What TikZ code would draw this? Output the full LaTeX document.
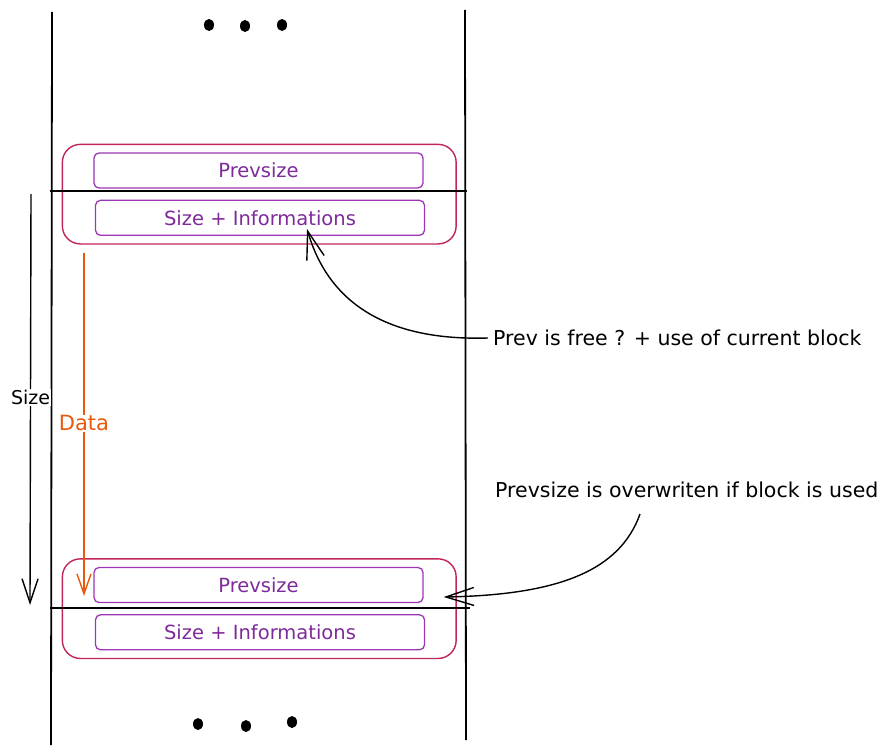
\documentclass[tikz,border=0pt]{standalone}
\usepackage{fontspec}
\setmainfont{DejaVu Sans}
\usetikzlibrary{
    arrows.meta,
    backgrounds,
    positioning,
    fit
}
\definecolor{chunkred}{HTML}{C2255C}
\definecolor{fieldviolet}{HTML}{9C36B5}
\definecolor{fieldtext}{HTML}{7E2A9A}
\definecolor{dataorange}{HTML}{E8590C}
\tikzstyle{field} = [draw=fieldviolet, rounded corners=5pt, minimum width=329pt, minimum height=35pt, text=fieldtext, font=\fontsize{19.5}{23}\selectfont, line width=1.3pt]
\tikzstyle{chunk} = [draw=chunkred, rounded corners=18pt, inner xsep=31pt, inner ysep=8pt, line width=1.4pt]
\tikzstyle{wall} = [line width=1.8pt]
\tikzstyle{note} = [anchor=west, inner sep=0pt, font=\fontsize{20.5}{24}\selectfont]
\tikzstyle{pointer} = [-{Straight Barb[length=28pt, width=18pt]}, line width=1.4pt]
\tikzstyle{axislabel} = [fill=white, inner sep=1pt, font=\fontsize{19}{22}\selectfont]

\begin{document}
\begin{tikzpicture}[x=1pt, y=-1pt]
    \tikzstyle{field} = [draw=fieldviolet, rounded corners=5pt, minimum width=329pt, minimum height=35pt, text=fieldtext, font=\fontsize{19.5}{23}\selectfont, line width=1.3pt]
    \tikzstyle{chunk} = [draw=chunkred, rounded corners=18pt, inner xsep=31pt, inner ysep=8pt, line width=1.4pt]

    \useasboundingbox (0,0) rectangle (894,754);

    % memory walls
    \draw[wall] (52,12) -- (51,745);
    \draw[wall] (465,10) -- (466,740);

    \node[field] (prev1) at (258.5,170.5) {Prevsize};
    \node[field] (info1) [below=11pt of prev1, xshift=1.5pt] {Size + Informations};
    \draw[line width=1.5pt] (50,191) -- (467,191);

    \node[field] (prev2) at (258.5,585) {Prevsize};
    \node[field] (info2) [below=11pt of prev2, xshift=1.5pt] {Size + Informations};
    \draw[line width=1.5pt] (50,608) -- (470,608);

    \foreach \x / \y in {209/25, 245/26, 282/25, 198/724, 246/726, 292/722}{
    \fill (\x,\y) circle [x radius=5pt, y radius=6pt];
    }

    \coordinate (sizetop) at (31,194);
    \coordinate (sizebot) at (30,605);
    \draw[-{Straight Barb[length=24pt, width=16pt]}, line width=1.4pt] (sizetop) -- node[axislabel, pos=0.495] {Size} (sizebot);

    \coordinate (datatop) at (84,253);
    \coordinate (databot) at (84,596);
    \draw[dataorange, -{Straight Barb[length=20pt, width=14pt]}, line width=1.4pt] (datatop) -- node[axislabel, text=dataorange, pos=0.497, font=\fontsize{21}{24}\selectfont] {Data} (databot);

    \node[note] (note1) at (493,338) {Prev is free ? + use of current block};
    \draw[pointer] ([xshift=-5pt]note1.west) .. controls (420,340) and (335,325) .. ([xshift=47pt, yshift=7pt]info1.south);

    \node[note] (note2) at (495,490) {Prevsize is overwriten if block is used};
    \coordinate (note2tail) at (640,514);
    \draw[pointer] (note2tail) .. controls (620,570) and (560,595) .. ([xshift=20pt, yshift=-12pt]prev2.east);

    \begin{pgfonlayer}{background}
        \node [chunk, fit= (prev1) (info1)] (chunk1) {};
        \node [chunk, fit= (prev2) (info2)] (chunk2) {};
    \end{pgfonlayer}
\end{tikzpicture}
\end{document}
